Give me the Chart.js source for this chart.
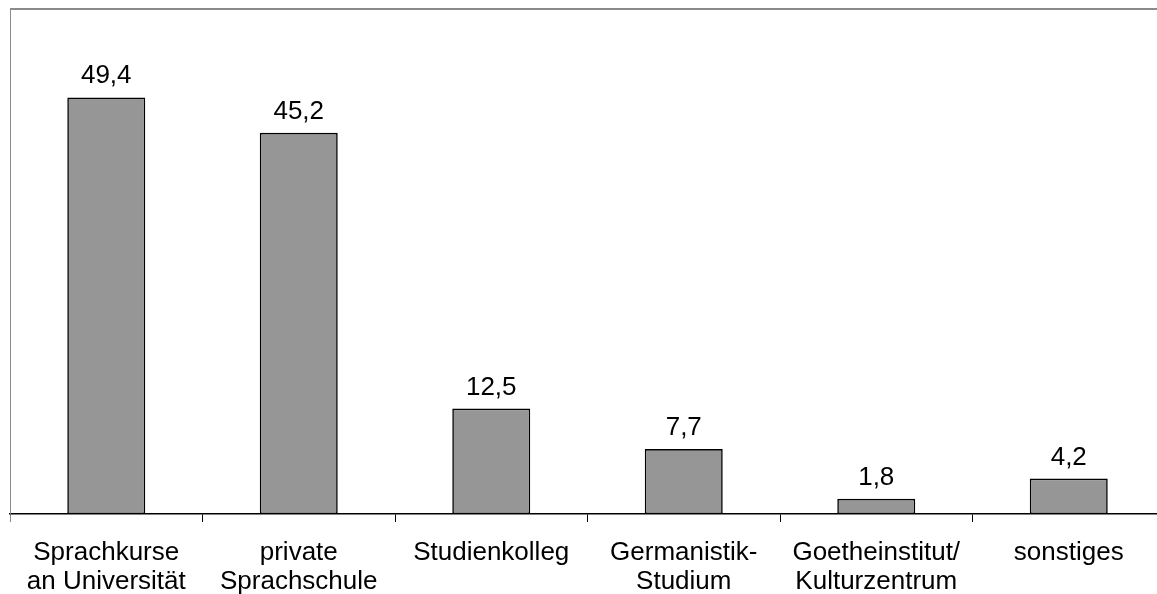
<!DOCTYPE html>
<html>
<head>
<meta charset="utf-8">
<script src="https://cdn.jsdelivr.net/npm/chart.js@4/dist/chart.umd.min.js"></script>
<style>
  html, body { margin: 0; padding: 0; background: #fff; overflow: hidden; }
  #wrap { position: relative; width: 1170px; height: 594px; }
</style>
</head>
<body>
<div id="wrap"><canvas id="c"></canvas></div>
<script>
const categories = [
  ["Sprachkurse", "an Universität"],
  ["private", "Sprachschule"],
  "Studienkolleg",
  ["Germanistik-", "Studium"],
  ["Goetheinstitut/", "Kulturzentrum"],
  "sonstiges"
];
const values = [49.4, 45.2, 12.5, 7.7, 1.8, 4.2];
const yMin = 0;
const yMax = 60;

const FONT = "'Liberation Sans', Arial, Helvetica, sans-serif";

const framePlugin = {
  id: 'frame',
  beforeDatasetsDraw(chart) {
    const { ctx, chartArea: a } = chart;
    ctx.save();
    ctx.strokeStyle = '#8a8a8a';
    ctx.lineWidth = 2;
    ctx.beginPath();
    ctx.moveTo(a.left, a.top + 1);
    ctx.lineTo(a.right + 10, a.top + 1);
    ctx.stroke();
    ctx.lineWidth = 1;
    ctx.beginPath();
    ctx.moveTo(a.left + 0.5, a.top);
    ctx.lineTo(a.left + 0.5, a.bottom);
    ctx.stroke();
    ctx.restore();
  }
};

const labelPlugin = {
  id: 'valueLabels',
  afterDatasetsDraw(chart) {
    const { ctx } = chart;
    const meta = chart.getDatasetMeta(0);
    ctx.save();
    ctx.font = '26px ' + FONT;
    ctx.fillStyle = '#000';
    ctx.textAlign = 'center';
    ctx.textBaseline = 'alphabetic';
    meta.data.forEach((bar, i) => {
      const txt = values[i].toFixed(1).replace('.', ',');
      ctx.fillText(txt, bar.x, bar.y - 14);
    });
    ctx.restore();
  }
};

new Chart(document.getElementById('c'), {
  type: 'bar',
  data: {
    labels: categories,
    datasets: [{
      data: values,
      backgroundColor: '#969696',
      borderColor: '#000',
      borderWidth: 1.6,
      borderSkipped: false,
      categoryPercentage: 1.0,
      barPercentage: 0.405
    }]
  },
  options: {
    responsive: true,
    maintainAspectRatio: false,
    devicePixelRatio: 1,
    animation: false,
    layout: { padding: { left: 10, top: 8, right: 5, bottom: 0 } },
    plugins: { legend: { display: false }, tooltip: { enabled: false } },
    scales: {
      x: {
        offset: true,
        grid: {
          offset: true,
          drawOnChartArea: false,
          drawTicks: true,
          tickLength: 8,
          color: (c) => c.index === 0 ? '#8a8a8a' : '#000',
          lineWidth: 1
        },
        border: { display: true, color: '#000', width: 1.5 },
        ticks: {
          color: '#000',
          font: { family: FONT, size: 26, lineHeight: 1.1 },
          padding: 17,
          maxRotation: 0,
          autoSkip: false
        },
        afterFit(scale) { scale.height = 80; }
      },
      y: {
        display: false,
        min: yMin,
        max: yMax
      }
    }
  },
  plugins: [framePlugin, labelPlugin]
});
</script>
</body>
</html>
